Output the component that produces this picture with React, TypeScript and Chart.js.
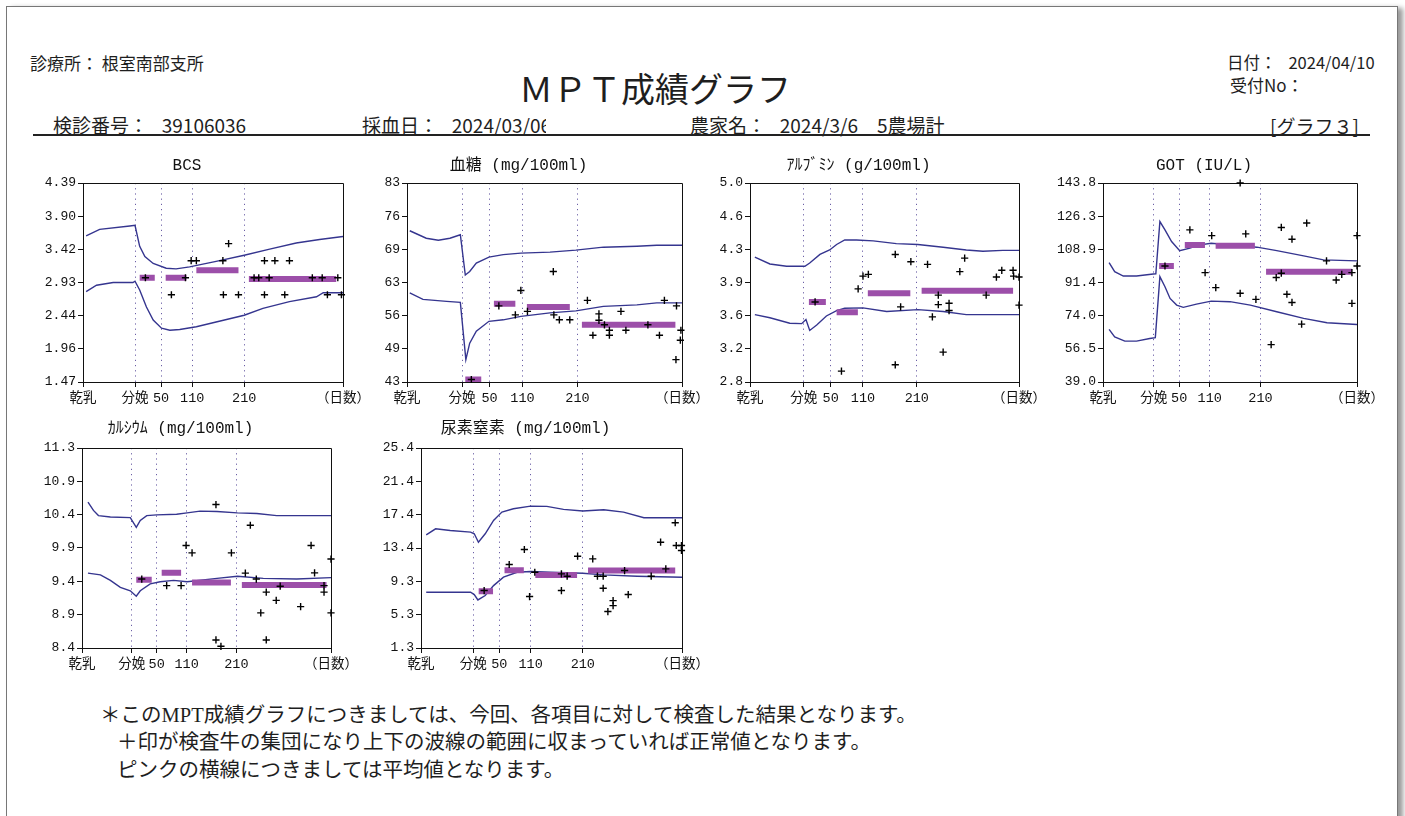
import React, { useEffect, useRef } from "react";
import { Chart, registerables } from "chart.js";

Chart.register(...registerables);

// ---------- shared axis data ----------
const X_TICKS = [-100, 0, 50, 110, 210, 400];
const X_TICK_LABELS = ["乾乳", "分娩", "50", "110", "210", "（日数）"];
const DOTTED_DAYS = [0, 50, 110, 210];

// ---------- BCS ----------
const BCS_Y_LABELS = ["1.47", "1.96", "2.44", "2.93", "3.42", "3.90", "4.39"];
const BCS_UPPER: [number, number][] = [[-94, 3.615], [-68, 3.71], [-10, 3.76], [0, 3.77], [9, 3.46], [19, 3.31], [35, 3.21], [60, 3.14], [79, 3.13], [105, 3.16], [156, 3.24], [210, 3.33], [259, 3.42], [310, 3.51], [355, 3.56], [400, 3.605]];
const BCS_LOWER: [number, number][] = [[-94, 2.795], [-74, 2.89], [-42, 2.93], [-4, 2.93], [0, 2.95], [9, 2.82], [22, 2.57], [35, 2.38], [51, 2.26], [67, 2.23], [86, 2.24], [118, 2.28], [156, 2.35], [210, 2.45], [246, 2.55], [297, 2.65], [349, 2.72], [362, 2.78], [400, 2.78]];
const BCS_MEANS: [number, number, number][] = [[9, 38, 3.0], [59, 99, 3.0], [118, 199, 3.11], [219, 387, 2.98]];
const BCS_POINTS: [number, number][] = [[20, 3.0], [70, 2.75], [97, 3.0], [108, 3.25], [118, 3.25], [169, 3.25], [180, 3.5], [170, 2.75], [199, 2.75], [229, 3.0], [238, 3.0], [258, 3.0], [249, 3.25], [269, 3.25], [297, 3.25], [249, 2.75], [288, 2.75], [341, 3.0], [360, 3.0], [390, 3.0], [370, 2.75], [397, 2.75]];

// ---------- 血糖 ----------
const GLU_Y_LABELS = ["43", "49", "56", "63", "69", "76", "83"];
const GLU_UPPER: [number, number][] = [[-95, 73.4], [-65, 71.9], [-43, 71.5], [-22, 71.9], [-3, 72.6], [6, 64.5], [14, 65.2], [26, 66.9], [49, 68.1], [75, 68.6], [107, 68.9], [160, 69.1], [207, 69.5], [257, 70.1], [318, 70.3], [354, 70.5], [400, 70.5]];
const GLU_LOWER: [number, number][] = [[-95, 60.9], [-71, 59.6], [-28, 59.2], [-3, 59.0], [7, 47.5], [14, 50.8], [26, 53.2], [49, 55.2], [75, 55.5], [107, 56.2], [160, 56.9], [207, 57.3], [257, 58.2], [318, 58.5], [354, 58.9], [400, 58.9]];
const GLU_MEANS: [number, number, number][] = [[6, 35, 43.5], [58, 97, 58.75], [118, 196, 58.1], [218, 388, 54.5]];
const GLU_POINTS: [number, number][] = [[17, 43.5], [67, 58.3], [97, 56.5], [107, 61.4], [119, 57.2], [166, 65.2], [167, 56.5], [177, 55.5], [196, 55.5], [228, 59.4], [238, 52.4], [249, 56.7], [249, 55.4], [259, 54.5], [268, 53.4], [268, 52.4], [289, 57.2], [298, 53.4], [338, 54.5], [359, 52.4], [368, 59.4], [390, 58.3], [398, 53.4], [397, 51.4], [389, 47.5]];

// ---------- アルブミン ----------
const ALB_Y_LABELS = ["2.8", "3.2", "3.6", "3.9", "4.3", "4.6", "5.0"];
const ALB_UPPER: [number, number][] = [[-91, 4.18], [-63, 4.105], [-32, 4.08], [2, 4.08], [11, 4.115], [30, 4.21], [48, 4.26], [61, 4.32], [76, 4.37], [98, 4.37], [129, 4.36], [172, 4.33], [212, 4.32], [259, 4.29], [302, 4.26], [333, 4.245], [370, 4.255], [400, 4.255]];
const ALB_LOWER: [number, number][] = [[-91, 3.545], [-63, 3.51], [-26, 3.45], [-4, 3.445], [4, 3.49], [11, 3.37], [24, 3.43], [42, 3.53], [61, 3.59], [76, 3.615], [110, 3.62], [154, 3.58], [212, 3.6], [259, 3.58], [302, 3.545], [400, 3.545]];
const ALB_MEANS: [number, number, number][] = [[9.5, 41, 3.685], [61, 100.5, 3.57], [119, 198, 3.78], [219, 389, 3.81]];
const ALB_POINTS: [number, number][] = [[21, 3.685], [70, 2.92], [101, 3.83], [110, 3.97], [120, 3.99], [170, 4.21], [170, 2.99], [180, 3.63], [199, 4.13], [230, 4.1], [250, 3.76], [250, 3.655], [239, 3.52], [259, 3.13], [270, 3.67], [270, 3.59], [290, 4.02], [299, 4.17], [339, 3.76], [358, 3.96], [368, 4.035], [389, 4.035], [390, 3.97], [400, 3.96], [400, 3.65]];

// ---------- GOT ----------
const GOT_Y_LABELS = ["39.0", "56.5", "74.0", "91.4", "108.9", "126.3", "143.8"];
const GOT_UPPER: [number, number][] = [[-88, 101.9], [-77, 97.1], [-60, 94.8], [-34, 94.8], [-1, 95.9], [4, 96], [12, 123.5], [22, 119.1], [35, 113], [51, 108.2], [71, 109.5], [91, 111.2], [113, 112.1], [150, 111.2], [203, 110], [242, 108.2], [295, 105.4], [334, 103.3], [400, 102.8]];
const GOT_LOWER: [number, number][] = [[-88, 66.7], [-77, 62.8], [-57, 60.5], [-34, 60.5], [-8, 61.9], [3, 62.4], [12, 94.5], [22, 89.2], [32, 83.0], [45, 79.5], [58, 78.3], [84, 80.0], [113, 81.6], [150, 81.3], [190, 79.5], [242, 76.0], [295, 72.5], [341, 70.2], [400, 69.3]];
const GOT_MEANS: [number, number, number][] = [[10.5, 39.5, 100.1], [61, 100.7, 111.2], [121.7, 199, 110.7], [221, 390, 97.1]];
const GOT_POINTS: [number, number][] = [[22, 100.1], [71, 119.1], [101, 96.6], [114, 116.1], [122, 88.7], [170, 143.8], [170, 85.7], [181, 117.0], [201, 82.5], [231, 58.7], [241, 94.0], [251, 96.3], [251, 120.4], [262, 85.2], [272, 80.9], [272, 114.2], [291, 69.5], [301, 122.7], [340, 102.8], [359, 92.7], [370, 95.7], [390, 96.6], [390, 80.4], [400, 100.1], [400, 116.1]];

// ---------- カルシウム ----------
const CA_Y_LABELS = ["8.4", "8.9", "9.4", "9.9", "10.4", "10.9", "11.3"];
const CA_UPPER: [number, number][] = [[-88, 10.516], [-77, 10.395], [-67, 10.32], [-43, 10.3], [-3, 10.29], [9, 10.15], [17, 10.25], [30, 10.32], [50, 10.33], [90, 10.34], [111, 10.36], [137, 10.385], [171, 10.38], [212, 10.36], [251, 10.35], [291, 10.32], [400, 10.32]];
const CA_LOWER: [number, number][] = [[-88, 9.485], [-63, 9.46], [-43, 9.38], [-23, 9.28], [-3, 9.23], [9, 9.15], [17, 9.23], [37, 9.33], [57, 9.36], [84, 9.38], [111, 9.36], [171, 9.41], [212, 9.44], [264, 9.41], [331, 9.4], [400, 9.42]];
const CA_MEANS: [number, number, number][] = [[9, 40, 9.39], [60, 99, 9.49], [121, 199, 9.35], [221, 391, 9.315]];
const CA_POINTS: [number, number][] = [[20, 9.4], [70, 9.305], [99, 9.305], [109, 9.887], [121, 9.78], [169, 10.48], [169, 8.517], [179, 8.425], [200, 9.78], [228, 9.485], [238, 10.18], [250, 9.4], [259, 8.91], [270, 9.21], [270, 8.517], [290, 9.09], [298, 9.296], [339, 9.0], [360, 9.887], [367, 9.49], [386, 9.305], [386, 9.21], [400, 9.69], [400, 8.91]];

// ---------- 尿素窒素 ----------
const BUN_Y_LABELS = ["1.3", "5.3", "9.3", "13.4", "17.4", "21.4", "25.4"];
const BUN_UPPER: [number, number][] = [[-90, 14.94], [-72, 15.66], [-44, 15.46], [-5, 15.26], [2, 15.06], [10, 14.05], [23, 15.06], [39, 16.67], [55, 17.68], [77, 18.08], [110, 18.4], [141, 18.36], [173, 18.0], [210, 17.8], [250, 17.96], [288, 17.68], [327, 16.99], [400, 16.99]];
const BUN_LOWER: [number, number][] = [[-90, 8.02], [-5, 8.02], [2, 7.74], [9, 7.09], [23, 7.62], [39, 8.82], [58, 9.83], [84, 10.43], [110, 10.51], [148, 10.43], [210, 10.31], [250, 10.11], [314, 9.95], [400, 9.83]];
const BUN_MEANS: [number, number, number][] = [[10.5, 38, 8.14], [60, 97, 10.67], [119, 199, 10.11], [220, 387, 10.63]];
const BUN_POINTS: [number, number][] = [[21, 8.22], [69, 11.36], [98, 13.17], [108, 7.5], [118, 10.43], [169, 10.23], [169, 8.22], [180, 9.95], [200, 12.36], [229, 12.04], [238, 9.95], [249, 9.95], [249, 8.5], [258, 5.69], [268, 6.41], [268, 7.01], [290, 10.63], [297, 7.74], [341, 9.95], [359, 14.05], [369, 10.84], [387, 16.39], [389, 13.65], [399, 13.65], [399, 13.05]];

// ---------- panels ----------
const PANELS = [
  { title: "BCS", yMin: 1.47, yMax: 4.39, yLabels: BCS_Y_LABELS, upper: BCS_UPPER, lower: BCS_LOWER, means: BCS_MEANS, points: BCS_POINTS },
  { title: "血糖 (mg/100ml)", yMin: 43, yMax: 83, yLabels: GLU_Y_LABELS, upper: GLU_UPPER, lower: GLU_LOWER, means: GLU_MEANS, points: GLU_POINTS },
  { title: "ｱﾙﾌﾞﾐﾝ (g/100ml)", yMin: 2.8, yMax: 5.0, yLabels: ALB_Y_LABELS, upper: ALB_UPPER, lower: ALB_LOWER, means: ALB_MEANS, points: ALB_POINTS },
  { title: "GOT (IU/L)", yMin: 39.0, yMax: 143.8, yLabels: GOT_Y_LABELS, upper: GOT_UPPER, lower: GOT_LOWER, means: GOT_MEANS, points: GOT_POINTS },
  { title: "ｶﾙｼｳﾑ (mg/100ml)", yMin: 8.4, yMax: 11.3, yLabels: CA_Y_LABELS, upper: CA_UPPER, lower: CA_LOWER, means: CA_MEANS, points: CA_POINTS },
  { title: "尿素窒素 (mg/100ml)", yMin: 1.3, yMax: 25.4, yLabels: BUN_Y_LABELS, upper: BUN_UPPER, lower: BUN_LOWER, means: BUN_MEANS, points: BUN_POINTS },
];

// plot-area boxes on the page (layout only)
const BOXES = [
  { l: 83, t: 183, w: 260, h: 199, th: 31 },
  { l: 407, t: 183, w: 275, h: 199, th: 31 },
  { l: 750, t: 183, w: 269, h: 199, th: 31 },
  { l: 1103, t: 183, w: 254, h: 199, th: 31 },
  { l: 82, t: 448, w: 249, h: 200, th: 33 },
  { l: 421, t: 448, w: 261, h: 200, th: 33 },
];

const AXIS_FONT = "'Liberation Mono', 'Noto Sans CJK JP', monospace";
const YW = 52;
const XH = 26;
const RP = 36;
const TITLE_SIZE = 16;

const framePlugin = {
  id: "frame",
  beforeDatasetsDraw(chart: any) {
    const { ctx, chartArea } = chart;
    ctx.save();
    ctx.strokeStyle = "#111";
    ctx.lineWidth = 1;
    ctx.beginPath();
    ctx.moveTo(Math.round(chartArea.left), Math.round(chartArea.top) + 0.5);
    ctx.lineTo(Math.round(chartArea.right) + 0.5, Math.round(chartArea.top) + 0.5);
    ctx.lineTo(Math.round(chartArea.right) + 0.5, Math.round(chartArea.bottom));
    ctx.stroke();
    ctx.restore();
  },
};

function PanelChart({ p, box }: { p: any; box: any }) {
  const ref = useRef<HTMLCanvasElement>(null);
  useEffect(() => {
    const toXY = (arr: [number, number][]) => arr.map(([x, y]) => ({ x, y }));
    const meanData: any[] = [];
    p.means.forEach(([a, b, v]: [number, number, number]) => {
      meanData.push({ x: a, y: v }, { x: b, y: v }, { x: b, y: null });
    });
    const chart = new Chart(ref.current!, {
      type: "line",
      data: {
        datasets: [
          {
            data: toXY(p.points),
            showLine: false,
            pointStyle: "cross",
            pointRadius: 3.6,
            pointBorderColor: "#000",
            pointBorderWidth: 1.4,
            clip: false,
            order: 0,
          } as any,
          {
            data: meanData,
            borderColor: "#9c4fa9",
            borderWidth: 6,
            borderCapStyle: "butt",
            pointRadius: 0,
            spanGaps: false,
            order: 1,
          },
          {
            data: toXY(p.upper),
            borderColor: "#35358f",
            borderWidth: 1.4,
            pointRadius: 0,
            order: 2,
          },
          {
            data: toXY(p.lower),
            borderColor: "#35358f",
            borderWidth: 1.4,
            pointRadius: 0,
            order: 2,
          },
        ],
      },
      options: {
        responsive: false,
        animation: false,
        devicePixelRatio: 1,
        events: [],
        layout: { padding: { left: 0, right: RP, top: 0, bottom: 0 } },
        plugins: {
          legend: { display: false },
          tooltip: { enabled: false },
          title: {
            display: true,
            text: p.title,
            color: "#111",
            font: { family: AXIS_FONT, size: TITLE_SIZE, weight: "normal", lineHeight: 1.2 },
            padding: { top: 4, bottom: box.th - 4 - TITLE_SIZE * 1.2 },
          },
        },
        scales: {
          x: {
            type: "linear",
            min: -100,
            max: 400,
            afterBuildTicks: (s: any) => {
              s.ticks = X_TICKS.map((v) => ({ value: v }));
            },
            afterFit: (s: any) => {
              s.height = XH;
            },
            ticks: {
              autoSkip: false,
              maxRotation: 0,
              padding: 3,
              color: "#111",
              font: { family: AXIS_FONT, size: 13.5 },
              callback: (_v: any, i: number) => X_TICK_LABELS[i],
            },
            grid: {
              drawOnChartArea: true,
              drawTicks: true,
              tickLength: 5,
              tickColor: "#111",
              lineWidth: 1,
              color: (ctx: any) =>
                ctx.tick && DOTTED_DAYS.includes(ctx.tick.value) ? "#6b5fa6" : "rgba(0,0,0,0)",
            },
            border: { display: true, color: "#111", width: 1, dash: [1.2, 4] },
          },
          y: {
            type: "linear",
            min: p.yMin,
            max: p.yMax,
            afterBuildTicks: (s: any) => {
              s.ticks = p.yLabels.map((_: string, i: number) => ({
                value: p.yMin + ((p.yMax - p.yMin) * i) / (p.yLabels.length - 1),
              }));
            },
            afterFit: (s: any) => {
              s.width = YW;
            },
            ticks: {
              autoSkip: false,
              padding: 2,
              color: "#111",
              font: { family: AXIS_FONT, size: 13 },
              callback: (_v: any, i: number) => p.yLabels[i],
            },
            grid: {
              drawOnChartArea: false,
              drawTicks: true,
              tickLength: 5,
              tickColor: "#111",
              color: "#111",
            },
            border: { display: true, color: "#111", width: 1 },
          },
        },
      },
      plugins: [framePlugin],
    } as any);
    return () => chart.destroy();
  }, []);
  return (
    <canvas
      ref={ref}
      width={box.w + YW + RP}
      height={box.th + box.h + XH}
      style={{ position: "absolute", left: box.l - YW, top: box.t - box.th }}
    />
  );
}

function T({ x, cy, fs, children, clipW, family }: any) {
  return (
    <div
      style={{
        position: "absolute",
        left: x,
        top: cy - fs * 0.55,
        fontSize: fs,
        lineHeight: 1,
        whiteSpace: "pre",
        width: clipW,
        overflow: clipW ? "hidden" : "visible",
        fontFamily: family,
      }}
    >
      {children}
    </div>
  );
}

const FOOT_FONT = "'Liberation Serif', 'Noto Sans CJK JP', serif";

export default function App() {
  return (
    <div
      style={{
        position: "absolute",
        left: 0,
        top: 0,
        width: 1405,
        height: 816,
        overflow: "hidden",
        background: "#fff",
        fontFamily: "'Noto Sans CJK JP', sans-serif",
        color: "#1e1e1e",
      }}
    >
      <div
        style={{
          position: "absolute",
          left: 6,
          top: 6,
          width: 1390,
          height: 840,
          border: "1px solid #777",
          boxShadow: "5px 2px 5px #9a9a9a",
          background: "#fff",
        }}
      />
      <T x={30} cy={63} fs={17}>{"診療所： 根室南部支所"}</T>
      <T x={519} cy={90} fs={34}>ＭＰＴ成績グラフ</T>
      <T x={1227} cy={63} fs={16.5}>{"日付：\u2002 2024/04/10"}</T>
      <T x={1230} cy={85} fs={17}>受付No：</T>
      <T x={53} cy={125} fs={19}>{"検診番号：\u2002 39106036"}</T>
      <T x={362} cy={125} fs={19} clipW={184}>{"採血日：\u2002 2024/03/06"}</T>
      <T x={690} cy={125} fs={19}>{"農家名：\u2002 2024/3/6　5農場計"}</T>
      <T x={1270} cy={126} fs={19}>[グラフ３]</T>
      <div style={{ position: "absolute", left: 33, top: 134, width: 1337, height: 2, background: "#222" }} />

      {PANELS.map((p, i) => (
        <PanelChart key={i} p={p} box={BOXES[i]} />
      ))}

      <T x={100} cy={716} fs={20.5} family={FOOT_FONT}>＊このMPT成績グラフにつきましては、今回、各項目に対して検査した結果となります。</T>
      <T x={117} cy={743} fs={20.5} family={FOOT_FONT}>＋印が検査牛の集団になり上下の波線の範囲に収まっていれば正常値となります。</T>
      <T x={117} cy={771} fs={20.5} family={FOOT_FONT}>ピンクの横線につきましては平均値となります。</T>
    </div>
  );
}
